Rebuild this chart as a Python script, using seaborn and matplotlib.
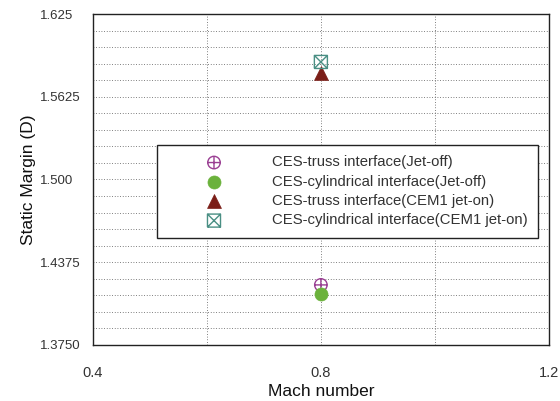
import numpy as np
import matplotlib
matplotlib.use("Agg")
import matplotlib.pyplot as plt
from matplotlib.path import Path
from matplotlib.ticker import MultipleLocator, FixedLocator
import seaborn as sns

# Static margin at Mach 0.8 for each configuration
mach = [0.8]
truss_jet_off = [1.4203]
cyl_jet_off = [1.4133]
truss_jet_on = [1.5808]
cyl_jet_on = [1.5888]

series_labels = [
    "CES-truss interface(Jet-off)",
    "CES-cylindrical interface(Jet-off)",
    "CES-truss interface(CEM1 jet-on)",
    "CES-cylindrical interface(CEM1 jet-on)",
]
x_ticks = [0.4, 0.8, 1.2]
x_tick_labels = ["0.4", "0.8", "1.2"]
y_ticks = [1.375, 1.4375, 1.5, 1.5625, 1.625]
y_tick_labels = ["1.3750", "1.4375", "1.500", "1.5625", "1.625"]

sns.set_style("white")
plt.rcParams["font.family"] = ["Liberation Sans", "DejaVu Sans"]

# Marker shapes: circle with a plus, square with an X
M, L = Path.MOVETO, Path.LINETO
circle_plus = Path.make_compound_path(
    Path.unit_circle(),
    Path([(-1, 0), (1, 0), (0, -1), (0, 1)], [M, L, M, L]),
)
square_x = Path(
    [(-1, -1), (1, -1), (1, 1), (-1, 1), (-1, -1),
     (-1, -1), (1, 1), (-1, 1), (1, -1)],
    [M, L, L, L, L, M, L, M, L],
)

fig = plt.figure(figsize=(5.6, 4.01), dpi=100)
ax = fig.add_axes([0.166, 0.140, 0.814, 0.825])

purple = "#9a3f93"
green = "#6bb23c"
darkred = "#7b1e18"
teal = "#4a8f84"

sns.scatterplot(x=mach, y=truss_jet_off, marker=circle_plus, s=81,
                facecolor="none", edgecolor=purple, linewidth=1.0,
                label=series_labels[0], ax=ax, zorder=3)
sns.scatterplot(x=mach, y=cyl_jet_off, marker="o", s=88,
                color=green, edgecolor=green, linewidth=0.5,
                label=series_labels[1], ax=ax, zorder=3)
sns.scatterplot(x=mach, y=truss_jet_on, marker="^", s=100,
                color=darkred, edgecolor=darkred, linewidth=0.5,
                label=series_labels[2], ax=ax, zorder=3)
sns.scatterplot(x=mach, y=cyl_jet_on, marker=square_x, s=88,
                facecolor="none", edgecolor=teal, linewidth=1.0,
                label=series_labels[3], ax=ax, zorder=4)

ax.set_xlim(0.4, 1.2)
ax.set_ylim(1.375, 1.625)
ax.xaxis.set_major_locator(FixedLocator(x_ticks))
ax.set_xticklabels(x_tick_labels)
ax.xaxis.set_minor_locator(MultipleLocator(0.2))
ax.yaxis.set_major_locator(FixedLocator(y_ticks))
ax.set_yticklabels(y_tick_labels)
ax.yaxis.set_minor_locator(MultipleLocator(0.0125))

ax.grid(True, which="both", color="#555555", linestyle=(0, (1, 2.2)), linewidth=0.6)
ax.set_axisbelow(True)
ax.tick_params(axis="both", which="both", length=0, colors="#333333")
ax.tick_params(axis="x", pad=15, labelsize=10.5)
ax.tick_params(axis="y", pad=38, labelsize=9.5)
for lbl in ax.get_yticklabels():
    lbl.set_horizontalalignment("left")

for sp in ax.spines.values():
    sp.set_color("#222222")
    sp.set_linewidth(1.0)

ax.set_xlabel("Mach number", fontsize=12.5, color="#111111", labelpad=3)
ax.set_ylabel("Static Margin (D)", fontsize=12.5, color="#111111", labelpad=3)

handles, labels = ax.get_legend_handles_labels()
leg = ax.legend(handles, labels, loc="upper left", bbox_to_anchor=(0.14, 0.604),
                frameon=True, fancybox=False, framealpha=1,
                edgecolor="#222222", fontsize=10.7, handletextpad=0.75,
                borderpad=0.7, labelspacing=0.36, borderaxespad=0,
                handlelength=6.3)
leg.get_frame().set_linewidth(1.0)
for t in leg.get_texts():
    t.set_color("#333333")

fig.savefig("out.png", dpi=100)
